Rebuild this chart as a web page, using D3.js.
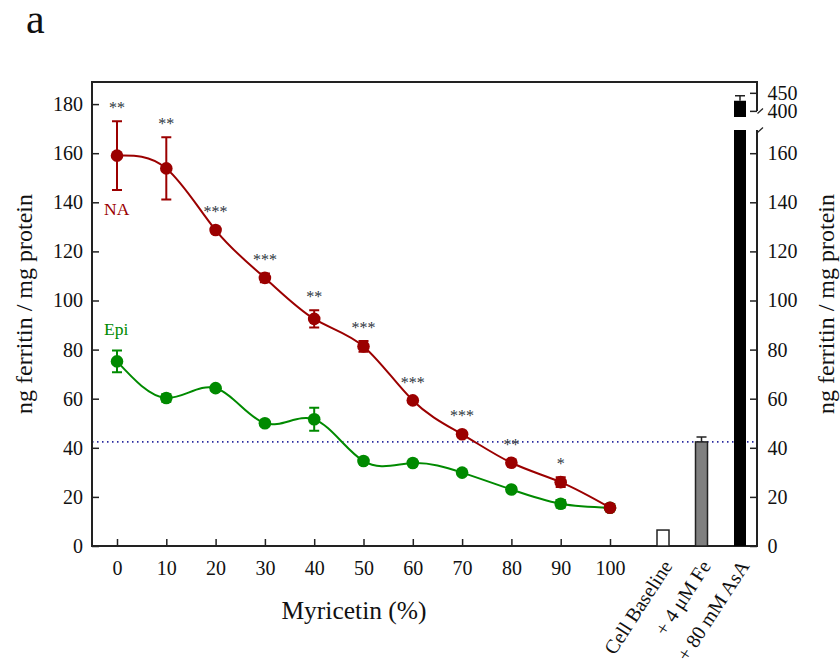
<!DOCTYPE html>
<html lang="en">
<head>
<meta charset="utf-8" />
<title>Ferritin vs Myricetin</title>
<script src="https://d3js.org/d3.v7.min.js"></script>
<style>
  body { margin: 0; background: #fff; }
  text { font-family: "Liberation Serif", "DejaVu Serif", serif; }
</style>
</head>
<body>
<div id="chart"></div>
<script>
// data
const myricetin = [0, 10, 20, 30, 40, 50, 60, 70, 80, 90, 100];
const naMean = [159, 153.8, 128.7, 109.2, 92.5, 81.3, 59.3, 45.5, 33.9, 26, 15.6];
const naErr = [14, 12.7, 1, 1.8, 3.5, 2.2, 1, 1, 1, 2, 0.5];
const epiMean = [75.2, 60.3, 64.3, 50, 51.6, 34.6, 33.8, 29.9, 23, 17.2, 15.6];
const epiErr = [4.4, 1.5, 1, 1, 4.7, 1, 1, 1, 1, 1.5, 0.5];
const stars = ["**", "**", "***", "***", "**", "***", "***", "***", "**", "*", ""];
const barLabels = ["Cell Baseline", "+ 4 \u03bcM Fe", "+ 80 mM AsA"];
const barValues = [6.5, 42.4, 428];
const barErr = [0, 2, 14];
const barFill = ["#fff", "#808080", "#000"];
const feLevel = 42.4;
const leftTicks = [0, 20, 40, 60, 80, 100, 120, 140, 160, 180];
const rightTicksLow = [0, 20, 40, 60, 80, 100, 120, 140, 160];
const rightTicksHigh = [400, 450];

const svg = d3.select("#chart").append("svg")
  .attr("width", 840).attr("height", 666)
  .attr("font-family", "Liberation Serif, serif");

const pL = 92, pR = 757, pT = 82, pB = 546;
const breakLow = 130, breakHigh = 111;

const x = d3.scaleLinear().domain([0, 100]).range([117, 610]);
const y = d3.scaleLinear().domain([0, 189]).range([pB, pT]);
const yLow = d3.scaleLinear().domain([0, 189]).range([pB, pT]);
const yHigh = d3.scaleLinear().domain([383, 480]).range([117, pT]);
const xb = d3.scalePoint().domain(barLabels).range([663, 740]);

const red = "#9b0000", green = "#008a00", ink = "#222";

// panel letter
svg.append("text").attr("x", 26).attr("y", 33)
  .attr("font-size", 42).attr("fill", "#111").text("a");

// dotted reference line
svg.append("line")
  .attr("x1", pL).attr("x2", pR)
  .attr("y1", y(feLevel)).attr("y2", y(feLevel))
  .attr("stroke", "#2a2aa0").attr("stroke-width", 1.6)
  .attr("stroke-dasharray", "1.5,3.5");

// axes
const axL = svg.append("g").attr("transform", `translate(${pL},0)`)
  .call(d3.axisLeft(y).tickValues(leftTicks).tickSizeInner(-7).tickSizeOuter(0).tickPadding(9));
const axB = svg.append("g").attr("transform", `translate(0,${pB})`)
  .call(d3.axisBottom(x).tickValues(myricetin).tickSizeInner(-7).tickSizeOuter(0).tickPadding(15));
const axR1 = svg.append("g").attr("transform", `translate(${pR},0)`)
  .call(d3.axisRight(yLow).tickValues(rightTicksLow).tickSizeInner(-7).tickSizeOuter(0).tickPadding(10.5));
const axR2 = svg.append("g").attr("transform", `translate(${pR},0)`)
  .call(d3.axisRight(yHigh).tickValues(rightTicksHigh).tickSizeInner(-7).tickSizeOuter(0).tickPadding(10.5));

[axL, axB, axR1, axR2].forEach(g => {
  g.attr("font-family", "Liberation Serif, serif");
  g.select(".domain").remove();
  g.selectAll("line").attr("stroke", ink).attr("stroke-width", 1.5);
  g.selectAll("text").attr("font-size", 20).attr("fill", "#111");
});

// frame
const frame = svg.append("g").attr("stroke", ink).attr("stroke-width", 2).attr("fill", "none");
frame.append("path").attr("d", `M${pR},${breakHigh}V${pT}H${pL}V${pB}H${pR}V${breakLow}`);
frame.selectAll(".brk").data([breakHigh, breakLow]).enter().append("line")
  .attr("x1", pR + 0.5).attr("x2", pR + 6)
  .attr("y1", d => d + 2.5).attr("y2", d => d - 2.5)
  .attr("stroke-width", 1.2);

// bars
const bw = 12;
barLabels.forEach((lab, i) => {
  const cx = xb(lab);
  const v = barValues[i];
  if (v < 200) {
    svg.append("rect").attr("x", cx - bw / 2).attr("width", bw)
      .attr("y", yLow(v)).attr("height", pB - yLow(v))
      .attr("fill", barFill[i]).attr("stroke", ink).attr("stroke-width", 1.5);
    if (barErr[i] > 0) {
      svg.append("path")
        .attr("d", `M${cx},${yLow(v)}V${yLow(v + barErr[i])}M${cx - 5},${yLow(v + barErr[i])}H${cx + 5}`)
        .attr("stroke", ink).attr("stroke-width", 1.5).attr("fill", "none");
    }
  } else {
    svg.append("rect").attr("x", cx - bw / 2).attr("width", bw)
      .attr("y", breakLow).attr("height", pB - breakLow).attr("fill", barFill[i]);
    svg.append("rect").attr("x", cx - bw / 2).attr("width", bw)
      .attr("y", yHigh(v)).attr("height", yHigh(383) - yHigh(v)).attr("fill", barFill[i]);
    svg.append("path")
      .attr("d", `M${cx},${yHigh(v)}V${yHigh(v + barErr[i])}M${cx - 5},${yHigh(v + barErr[i])}H${cx + 5}`)
      .attr("stroke", ink).attr("stroke-width", 1.5).attr("fill", "none");
  }
  svg.append("text")
    .attr("transform", `translate(${cx + 10},${pB + 20}) rotate(-57)`)
    .attr("text-anchor", "end").attr("font-size", 20).attr("fill", "#111")
    .text(lab);
});

// series
function series(mean, err, color) {
  const pts = myricetin.map((d, i) => [x(d), y(mean[i]), y(mean[i] + err[i]), y(mean[i] - err[i])]);
  svg.append("path")
    .attr("d", d3.line().curve(d3.curveNatural)(pts.map(p => [p[0], p[1]])))
    .attr("fill", "none").attr("stroke", color).attr("stroke-width", 2);
  const g = svg.append("g").attr("stroke", color).attr("stroke-width", 2).attr("fill", "none");
  pts.forEach(p => {
    g.append("path").attr("d", `M${p[0]},${p[2]}V${p[3]}M${p[0] - 5},${p[2]}H${p[0] + 5}M${p[0] - 5},${p[3]}H${p[0] + 5}`);
  });
  svg.append("g").selectAll("circle").data(pts).enter().append("circle")
    .attr("cx", p => p[0]).attr("cy", p => p[1]).attr("r", 6.3).attr("fill", color);
}
series(epiMean, epiErr, green);
series(naMean, naErr, red);

// significance stars
svg.append("g").selectAll("text").data(stars).enter().append("text")
  .attr("x", (d, i) => x(myricetin[i]))
  .attr("y", (d, i) => y(naMean[i] + Math.max(naErr[i], 2)) - 8)
  .attr("text-anchor", "middle").attr("font-size", 16).attr("fill", "#2d3540")
  .text(d => d);

// series labels
svg.append("text").attr("x", 104).attr("y", 215).attr("font-size", 17.5).attr("fill", red).text("NA");
svg.append("text").attr("x", 104).attr("y", 335).attr("font-size", 17.5).attr("fill", green).text("Epi");

// axis titles
svg.append("text").attr("transform", "translate(32,304) rotate(-90)")
  .attr("text-anchor", "middle").attr("font-size", 24).attr("fill", "#111")
  .text("ng ferritin / mg protein");
svg.append("text").attr("transform", "translate(834,304) rotate(-90)")
  .attr("text-anchor", "middle").attr("font-size", 24).attr("fill", "#111")
  .text("ng ferritin / mg protein");
svg.append("text").attr("x", 354).attr("y", 619)
  .attr("text-anchor", "middle").attr("font-size", 25.5).attr("fill", "#111")
  .text("Myricetin (%)");
</script>
</body>
</html>
